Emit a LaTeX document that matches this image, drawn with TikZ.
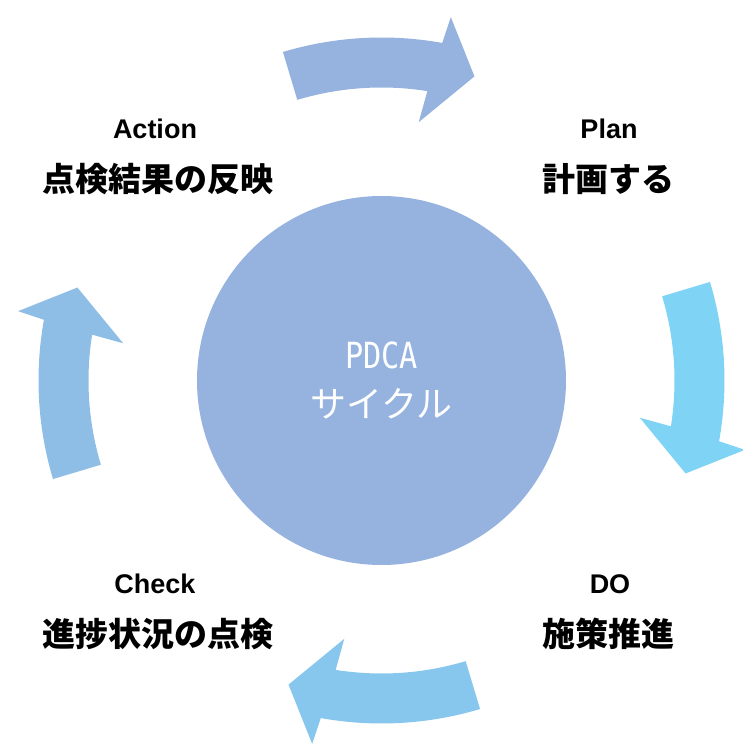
\documentclass[tikz,border=0pt]{standalone}
\usepackage{fontspec}
\usepackage{graphicx}
\usepackage{tikz}
\usetikzlibrary{positioning}
\setmainfont{Noto Sans CJK JP}
\newfontfamily\latinfont{Liberation Sans}
\newfontfamily\monofont{DejaVu Sans Mono}
\definecolor{cyclefill}{HTML}{95B3DE}
\definecolor{arrtop}{HTML}{95B3DE}
\definecolor{arrright}{HTML}{7FD3F5}
\definecolor{arrbottom}{HTML}{87C6ED}
\definecolor{arrleft}{HTML}{8EBDE5}
\definecolor{ink}{HTML}{000000}
\tikzset{
  steplabel/.style={text=ink,inner sep=0pt,font=\latinfont\bfseries\fontsize{27}{30}\selectfont},
  stepjp/.style={text=ink,inner sep=0pt,font=\bfseries\fontsize{33}{38}\selectfont},
  hubtext/.style={text=white,inner sep=0pt}
}
\begin{document}
\begin{tikzpicture}[x=1pt,y=1pt]
    \path[use as bounding box] (-381.5,-363.5) rectangle (360.5,380.5);
    % centre disc
    \fill[cyclefill] (0,0) circle (184.5);
    % four curved arrows, clockwise
    \foreach \a/\col in {90/arrtop,0/arrright,-90/arrbottom,180/arrleft}{
      \fill[\col] (\a+16.7:343) arc[start angle=\a+16.7,end angle=\a-10.2,radius=343]
        -- (\a-10.8:370) -- (\a-17:318) -- (\a-8.2:261) -- (\a-9:293)
        arc[start angle=\a-9,end angle=\a+16.7,radius=293] -- cycle;
    }
    \node[hubtext,font=\monofont\fontsize{36}{40}\selectfont] (pdca) at (0,25.5)
      {\scalebox{0.84}[1]{PDCA}};
    \node[hubtext,font=\fontsize{36}{40}\selectfont] (cycle) at (0,-23.5) {サイクル};
    % step labels
    \node[steplabel] (act) at (-226.5,251.5) {Action};
    \node[stepjp] (actjp) at (-223.5,201.5) {点検結果の反映};
    \node[steplabel] (plan) at (227.5,251.5) {Plan};
    \node[stepjp] (planjp) at (226.5,201.5) {計画する};
    \node[steplabel] (check) at (-226.5,-203.5) {Check};
    \node[stepjp] (checkjp) at (-223.5,-253.5) {進捗状況の点検};
    \node[steplabel] (do) at (228.5,-203.5) {DO};
    \node[stepjp] (dojp) at (226.5,-253.5) {施策推進};
  \end{tikzpicture}
\end{document}
